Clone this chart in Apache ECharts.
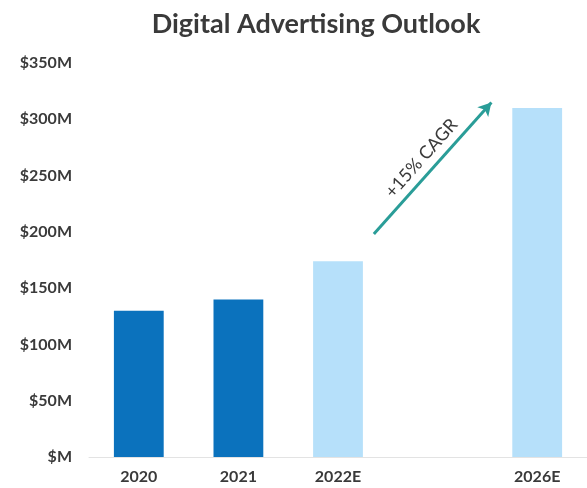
<!DOCTYPE html>
<html><head><meta charset="utf-8">
<script src="https://cdn.jsdelivr.net/npm/echarts@6/dist/echarts.min.js"></script>
<style>html,body{margin:0;padding:0;background:#fff;}#c{width:587px;height:488px;}</style>
</head><body><div id="c"></div>
<script>
const categories = ['2020', '2021', '2022E', '', '2026E'];
const values = [130, 140, 174, null, 310];
const actualFlags = [true, true, false, null, false];
const yTicks = [0, 50, 100, 150, 200, 250, 300, 350];
const arrowStart = [2.36, 198];
const arrowEnd = [3.54, 315];
const arrowLabel = '+15% CAGR';

const chart = echarts.init(document.getElementById('c'));
chart.setOption({
  animation: false,
  title: {
    text: 'Digital Advertising Outlook', left: 311, top: 6, textAlign: 'center',
    textStyle: {fontFamily: 'Lato', fontWeight: 'bold', fontSize: 27, color: '#3a3a3a'}
  },
  grid: {left: 89, right: -4, top: 63, bottom: 31},
  xAxis: [{
    type: 'category', data: categories,
    axisLine: {lineStyle: {color: '#e3e3e3'}}, axisTick: {show: false},
    axisLabel: {fontFamily: 'Lato', fontWeight: 'bold', fontSize: 16, color: '#3a3a3a', margin: 12}
  }, {
    type: 'value', min: -0.5, max: 4.5, show: false
  }],
  yAxis: {
    type: 'value', min: 0, max: 350, interval: 50,
    splitLine: {show: false}, axisLine: {show: false}, axisTick: {show: false},
    axisLabel: {fontFamily: 'Lato', fontWeight: 'bold', fontSize: 16, color: '#3a3a3a', margin: 17,
      formatter: v => yTicks.includes(v) ? (v === 0 ? '$M' : '$' + v + 'M') : ''}
  },
  series: [{
    type: 'bar', barWidth: '50%',
    data: values.map((v, i) => ({value: v, itemStyle: {color: actualFlags[i] ? '#0b72bd' : '#b6e0fa'}}))
  }, {
    type: 'line', xAxisIndex: 1, data: [], symbol: 'none',
    markLine: {
      silent: true, symbol: ['none', 'arrow'], symbolSize: [11, 13],
      lineStyle: {color: '#2a9d98', width: 3, type: 'solid'},
      label: {show: true, position: 'insideMiddleTop', formatter: arrowLabel, distance: 6,
        fontFamily: 'Lato', fontSize: 18, color: '#3a3a3a'},
      data: [[{coord: arrowStart}, {coord: arrowEnd}]]
    }
  }]
});
</script></body></html>
